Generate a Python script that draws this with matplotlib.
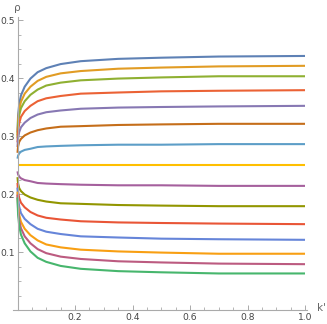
import matplotlib
matplotlib.use("Agg")
import matplotlib.pyplot as plt
from matplotlib.ticker import MultipleLocator

k = [0.0, 0.002, 0.006, 0.012, 0.025, 0.045, 0.07, 0.1, 0.15, 0.22, 0.35, 0.5, 0.7, 1.0]

curves = [
    [0.306, 0.335, 0.355, 0.370, 0.385, 0.399, 0.410, 0.417, 0.424, 0.429, 0.433, 0.435, 0.437, 0.438],
    [0.301, 0.327, 0.346, 0.359, 0.373, 0.385, 0.395, 0.402, 0.408, 0.412, 0.416, 0.418, 0.420, 0.421],
    [0.296, 0.319, 0.336, 0.348, 0.360, 0.371, 0.380, 0.387, 0.392, 0.396, 0.399, 0.401, 0.403, 0.403],
    [0.289, 0.308, 0.322, 0.333, 0.343, 0.352, 0.360, 0.365, 0.369, 0.373, 0.375, 0.377, 0.378, 0.379],
    [0.281, 0.296, 0.307, 0.315, 0.323, 0.331, 0.337, 0.341, 0.344, 0.347, 0.349, 0.350, 0.351, 0.352],
    [0.271, 0.282, 0.290, 0.295, 0.301, 0.306, 0.310, 0.313, 0.316, 0.317, 0.319, 0.320, 0.321, 0.321],
    [0.261, 0.266, 0.270, 0.273, 0.276, 0.278, 0.281, 0.282, 0.283, 0.284, 0.285, 0.285, 0.286, 0.286],
    [0.250, 0.250, 0.250, 0.250, 0.250, 0.250, 0.250, 0.250, 0.250, 0.250, 0.250, 0.250, 0.250, 0.250],
    [0.239, 0.234, 0.230, 0.227, 0.224, 0.222, 0.219, 0.218, 0.217, 0.216, 0.215, 0.215, 0.214, 0.214],
    [0.229, 0.218, 0.210, 0.205, 0.199, 0.194, 0.190, 0.187, 0.184, 0.183, 0.181, 0.180, 0.179, 0.179],
    [0.219, 0.204, 0.193, 0.185, 0.177, 0.169, 0.163, 0.159, 0.156, 0.153, 0.151, 0.150, 0.149, 0.148],
    [0.211, 0.192, 0.178, 0.167, 0.157, 0.148, 0.140, 0.135, 0.131, 0.127, 0.125, 0.123, 0.122, 0.121],
    [0.204, 0.181, 0.164, 0.152, 0.140, 0.129, 0.120, 0.113, 0.108, 0.104, 0.101, 0.099, 0.097, 0.097],
    [0.199, 0.173, 0.154, 0.141, 0.127, 0.115, 0.105, 0.098, 0.092, 0.088, 0.084, 0.082, 0.080, 0.079],
    [0.194, 0.165, 0.145, 0.130, 0.115, 0.101, 0.090, 0.083, 0.076, 0.071, 0.067, 0.065, 0.063, 0.063],
]

colors = ["#5E81B5", "#E19C24", "#8FB032", "#EB6235", "#8778B3", "#C56E1A",
          "#5D9EC7", "#FFBF00", "#A5609D", "#929600", "#E95536", "#6685D9",
          "#F89F13", "#BC5B80", "#47B66D"]

xticks = [0.2, 0.4, 0.6, 0.8, 1.0]
yticks = [0.1, 0.2, 0.3, 0.4, 0.5]

W, H = 327, 324
fig = plt.figure(figsize=(W / 100, H / 100), dpi=100)
x0, x1 = -0.015, 1.008
y0, y1 = 0.0, 0.505
px_x0 = 17.5 + x0 * 287.5
px_x1 = 17.5 + x1 * 287.5
px_y0 = 310 - y0 * 580
px_y1 = 310 - y1 * 580
ax = fig.add_axes([px_x0 / W, 1 - px_y0 / H, (px_x1 - px_x0) / W, (px_y0 - px_y1) / H])

for ys, c in zip(curves, colors):
    ax.plot(k, ys, color=c, lw=1.5, solid_capstyle="butt", solid_joinstyle="round", clip_on=False)

ax.set_xlim(x0, x1)
ax.set_ylim(y0, y1)
for s in ["top", "right"]:
    ax.spines[s].set_visible(False)
ax.spines["left"].set_position(("data", 0))
axcol = "#AAAAAA"
for s in ["left", "bottom"]:
    ax.spines[s].set_color(axcol)
    ax.spines[s].set_linewidth(0.8)

ax.set_xticks(xticks)
ax.set_xticklabels([f"{v:.1f}" for v in xticks])
ax.set_yticks(yticks)
ax.set_yticklabels([f"{v:.1f}" for v in yticks])
ax.xaxis.set_minor_locator(MultipleLocator(0.05))
ax.yaxis.set_minor_locator(MultipleLocator(0.025))
ax.tick_params(which="major", direction="in", length=3.5, width=0.7, color=axcol,
               labelsize=6.6, labelcolor="#444444", pad=2)
ax.tick_params(which="minor", direction="in", length=2, width=0.6, color=axcol)

fig.text(17 / W, 1 - 8 / H, "ρ", fontsize=7.5, color="#666666", ha="center", va="center")
fig.text(321 / W, 1 - 308 / H, "k'", fontsize=7.5, color="#666666", ha="center", va="center")

fig.savefig("out.png", dpi=100)
